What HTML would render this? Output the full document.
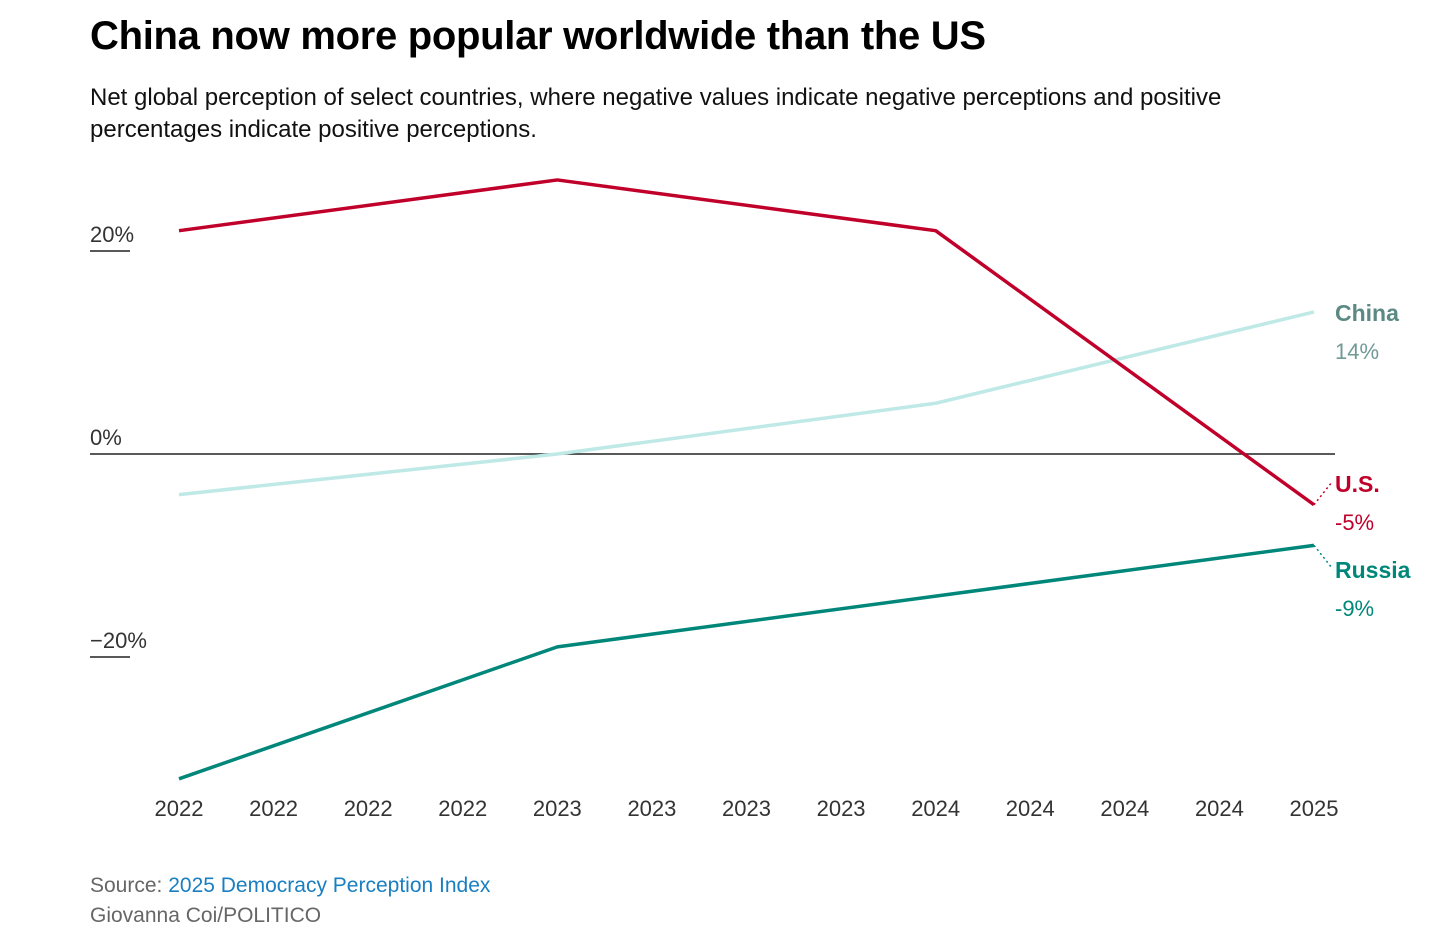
<!DOCTYPE html>
<html><head><meta charset="utf-8">
<style>
body{margin:0;background:#fff;width:1452px;height:946px;overflow:hidden;font-family:"Liberation Sans",sans-serif;}
h1{position:absolute;left:90px;top:14px;margin:0;font-size:40px;font-weight:bold;color:#000;letter-spacing:-0.3px}
.sub{position:absolute;left:90px;top:82px;width:1250px;font-size:24px;line-height:32px;color:#111}
.foot{position:absolute;left:90px;font-size:21px;color:#666}
svg{position:absolute;left:0;top:0}
</style></head><body>
<h1>China now more popular worldwide than the US</h1>
<div class="sub">Net global perception of select countries, where negative values indicate negative perceptions and positive percentages indicate positive perceptions.</div>
<div class="foot" style="top:874px">Source: <span style="color:#1a7fc1">2025 Democracy Perception Index</span></div>
<div class="foot" style="top:904px">Giovanna Coi/POLITICO</div>
<svg id="chart" width="1452" height="946"></svg>
<script>
const xLabels=["2022","2022","2022","2022","2023","2023","2023","2023","2024","2024","2024","2024","2025"];
const pointIdx=[0,4,8,12];
const usValues=[22,27,22,-5];
const chinaValues=[-4,0,5,14];
const russiaValues=[-32,-19,-14,-9];
const yTicks=[20,0,-20];
const yTickLabels=["20%","0%","\u221220%"];
const NS="http://www.w3.org/2000/svg";
const svg=document.getElementById('chart');
const x=i=>179+i*(1314-179)/12;
const y=v=>454-v*10.15;
function mk(t,a,p){const e=document.createElementNS(NS,t);for(const k in a)e.setAttribute(k,a[k]);(p||svg).appendChild(e);return e;}
yTicks.forEach((v,i)=>{
  const g=mk('g',{});
  
  
  if(v===0){mk('line',{x1:90,x2:1335,y1:y(0),y2:y(0),stroke:'#222','stroke-width':1.5},g);}
  else mk('line',{x1:90,x2:130,y1:y(v),y2:y(v),stroke:'#222','stroke-width':1.5},g);
  const t=mk('text',{x:90,y:y(v)-9,'font-size':22,fill:'#333'},g);t.textContent=yTickLabels[i];
});
xLabels.forEach((l,i)=>{
  const t=mk('text',{x:x(i),y:816,'font-size':22,fill:'#333','text-anchor':'middle'});
  
  
  t.textContent=l;
});
function series(vals,color,name){
  const p=mk('polyline',{points:vals.map((v,i)=>x(pointIdx[i])+','+y(v)).join(' '),fill:'none',stroke:color,'stroke-width':3.5,'stroke-linejoin':'round'});
  
  
}
series(chinaValues,'#bfe9e6','china-line');
series(usValues,'#c0002a','us-line');
series(russiaValues,'#00877a','russia-line');
function label(name,val,color,vcolor,ly,lastV,dname){
  const g=mk('g',{});
  
  
  const lx=x(12);
  if(Math.abs(y(lastV)-ly)>12) mk('line',{x1:lx,y1:y(lastV),x2:1332,y2:ly-10,stroke:color,'stroke-width':1.5,'stroke-dasharray':'2,3'},g);
  const t=mk('text',{x:1335,y:ly,'font-size':23,'font-weight':'bold',fill:color},g);t.textContent=name;
  const t2=mk('text',{x:1335,y:ly+38,'font-size':22,fill:vcolor},g);t2.textContent=val;
}
label('China',chinaValues[3]+'%','#5b8a85','#6f9a95',321,chinaValues[3],'china-label');
label('U.S.',usValues[3]+'%','#c0002a','#c0002a',492,usValues[3],'us-label');
label('Russia',russiaValues[3]+'%','#00877a','#00877a',578,russiaValues[3],'russia-label');
</script>
</body></html>
